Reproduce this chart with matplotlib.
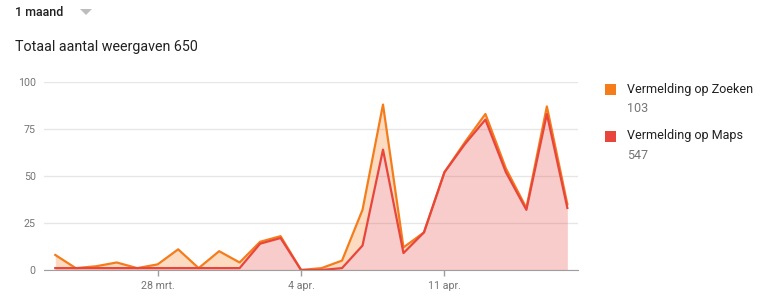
import numpy as np
import matplotlib.pyplot as plt
from matplotlib.patches import Rectangle, Polygon

plt.rcParams['font.family'] = ['Roboto', 'DejaVu Sans']

# Data: daily views, 23 mrt - 17 apr
dates = ['23 mrt.', '24 mrt.', '25 mrt.', '26 mrt.', '27 mrt.', '28 mrt.', '29 mrt.',
         '30 mrt.', '31 mrt.', '1 apr.', '2 apr.', '3 apr.', '4 apr.', '5 apr.',
         '6 apr.', '7 apr.', '8 apr.', '9 apr.', '10 apr.', '11 apr.', '12 apr.',
         '13 apr.', '14 apr.', '15 apr.', '16 apr.', '17 apr.']
maps = [1, 1, 1, 1, 1, 1, 1, 1, 1, 1, 14, 17, 0, 0, 1, 13, 64, 9, 20, 52, 67,
        80, 52, 32, 83, 33]
zoeken = [7, 0, 1, 3, 0, 2, 10, 0, 9, 3, 1, 1, 0, 1, 4, 19, 24, 3, 0, 0, 1,
          3, 2, 1, 4, 2]
tick_labels = ['28 mrt.', '4 apr.', '11 apr.']
yticks = [0, 25, 50, 75, 100]

orange = '#F57C1A'
red = '#E8453C'
grey = '#757575'

x = np.arange(len(dates))
maps = np.array(maps)
total = maps + np.array(zoeken)

W, H = 770, 300
fig = plt.figure(figsize=(W / 100, H / 100), dpi=100)
ax = fig.add_axes([44 / W, 1 - 270 / H, (578 - 44) / W, (270 - 82) / H])

ax.fill_between(x, 0, maps, color=red, alpha=0.27, lw=0, zorder=2)
ax.fill_between(x, maps, total, color=orange, alpha=0.27, lw=0, zorder=2)
ax.plot(x, total, color=orange, lw=1.6, zorder=3)
ax.plot(x, maps, color=red, lw=1.6, zorder=4)

ax.set_xlim(-0.55, len(dates) - 0.48)
ax.set_ylim(0, 100)
ax.set_yticks(yticks)
ax.set_yticklabels([str(v) for v in yticks])
ax.set_xticks([dates.index(t) for t in tick_labels])
ax.set_xticklabels(tick_labels)
ax.grid(axis='y', color='#e6e6e6', lw=1, zorder=1)
for s in ['top', 'right', 'left']:
    ax.spines[s].set_visible(False)
ax.spines['bottom'].set_color('#9e9e9e')
ax.spines['bottom'].set_zorder(5)
ax.tick_params(axis='y', length=0, pad=6, labelsize=7.7, labelcolor=grey)
ax.tick_params(axis='x', length=4, width=1, color='#9e9e9e', pad=4,
               labelsize=7.7, labelcolor=grey)

# header
fig.text(15 / W, 1 - 12 / H, '1 maand', fontsize=9, fontweight='medium',
         color='#212121', va='center', ha='left')
fig.patches.append(Polygon([[80 / W, 1 - 9 / H], [92 / W, 1 - 9 / H], [86 / W, 1 - 15 / H]],
                           closed=True, transform=fig.transFigure,
                           facecolor='#bdbdbd', edgecolor='none'))
fig.text(15 / W, 1 - 47 / H, 'Totaal aantal weergaven 650', fontsize=10.3,
         color='#212121', va='center', ha='left')

# legend
legend = [('Vermelding op Zoeken', '103', orange, 89),
          ('Vermelding op Maps', '547', red, 136)]
for name, val, c, yy in legend:
    fig.patches.append(Rectangle((605 / W, 1 - (yy + 6) / H), 11 / W, 11 / H,
                                 transform=fig.transFigure, facecolor=c,
                                 edgecolor='none'))
    fig.text(627 / W, 1 - yy / H, name, fontsize=9, color='#212121',
             va='center', ha='left')
    fig.text(627 / W, 1 - (yy + 19) / H, val, fontsize=9, color=grey,
             va='center', ha='left')

fig.savefig('out.png', dpi=100)
